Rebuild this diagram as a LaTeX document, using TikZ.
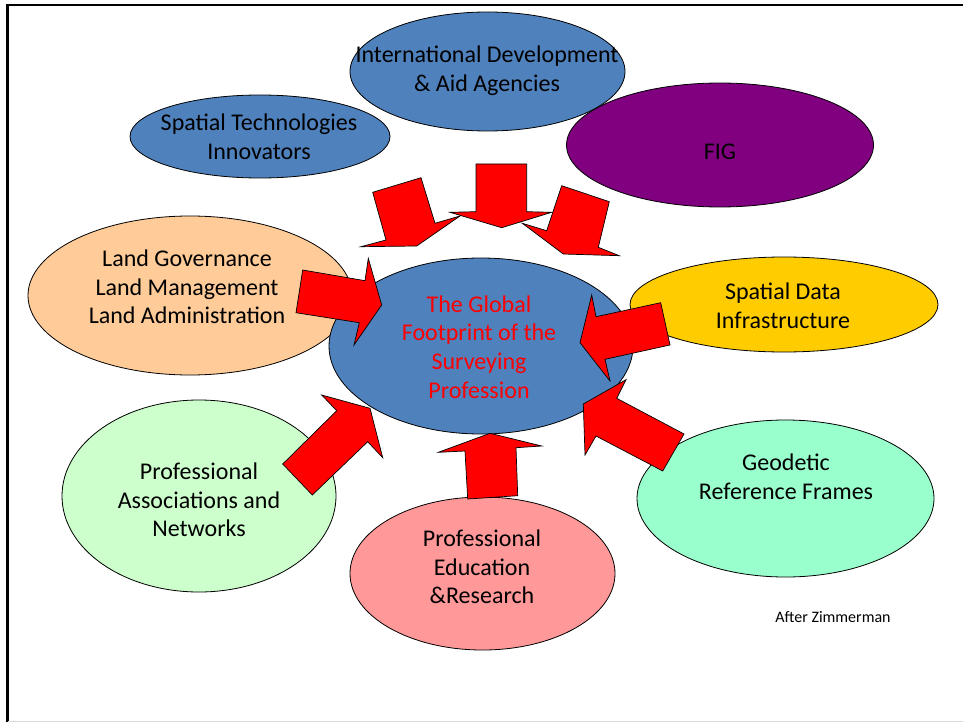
\documentclass[tikz,border=0pt]{standalone}
\usepackage{fontspec}
\setmainfont{Carlito}
\usetikzlibrary{shapes.geometric}
\definecolor{offblue}{HTML}{4F81BD}
\definecolor{figpurple}{HTML}{800080}
\definecolor{peach}{HTML}{FFCC99}
\definecolor{sdiyellow}{HTML}{FFCC00}
\definecolor{lightgreen}{HTML}{CCFFCC}
\definecolor{pink}{HTML}{FF9999}
\definecolor{mint}{HTML}{99FFCC}
\begin{document}
\begin{tikzpicture}[x=1pt,y=-1pt,
  bubble/.style={ellipse, draw=black, line width=0.8pt, inner sep=0pt},
  lbl/.style={align=center, font=\fontsize{24}{28.6}\selectfont, text=black, inner sep=0pt},
  blockarrow/.style={fill=red, draw=black, line width=0.7pt, line join=miter}]
\useasboundingbox (0,0) rectangle (963,722);
\fill[white] (0,0) rectangle (963,722);
% frame
\draw[line width=2.5pt, black] (7.5,730) -- (7.5,5) -- (975,5);
\draw[line width=1pt, black!15] (7.5,721.5) -- (963,721.5);

% ellipses
\node[bubble, fill=offblue, minimum width=260pt, minimum height=83pt] (spt) at (260,136.5) {};
\node[bubble, fill=figpurple, minimum width=307pt, minimum height=124pt] (fig) at (720,145) {};
\node[bubble, fill=offblue, minimum width=275pt, minimum height=119pt] (intl) at (487.5,71.5) {};
\node[bubble, fill=peach, minimum width=324pt, minimum height=159pt] (land) at (190,295.5) {};
\node[bubble, fill=sdiyellow, minimum width=308pt, minimum height=95pt] (sdi) at (784,304.5) {};
\node[bubble, fill=lightgreen, minimum width=274pt, minimum height=192pt] (assoc) at (199,496) {};
\node[bubble, fill=pink, minimum width=265pt, minimum height=153pt] (edu) at (482.5,573.5) {};
\node[bubble, fill=mint, minimum width=297pt, minimum height=157pt] (geo) at (785.5,498.5) {};
\node[bubble, fill=offblue, minimum width=304pt, minimum height=176pt] (core) at (481,346) {};

% labels
\node[lbl] (spt-t) at (259,136.5) {Spatial Technologies\\Innovators};
\node[lbl] (intl-t) at (487,71) {International Development\\\& Aid Agencies};
\node[lbl] (fig-t) at (720,152) {FIG};
\node[lbl] (land-t) at (187,287) {Land Governance\\Land Management\\Land Administration};
\node[lbl, text=red] (core-t) at (479,347) {The Global\\Footprint of the\\Surveying\\Profession};
\node[lbl] (sdi-t) at (783,305.5) {Spatial Data\\Infrastructure};
\node[lbl] (assoc-t) at (199,500) {Professional\\Associations and\\Networks};
\node[lbl] (geo-t) at (786,476.5) {Geodetic\\Reference Frames};
\node[lbl] (edu-t) at (482,567) {Professional\\Education\\\&Research};
\node[font=\fontsize{16}{18}\selectfont, inner sep=0pt] (after) at (833,617) {After Zimmerman};

% block arrows
\filldraw[blockarrow] (372.7,192.3) -- (421,177.7) -- (435,223.3) -- (460,216) -- (416.7,246) -- (361,246.7) -- (386,240) -- cycle;
\filldraw[blockarrow] (476,164) -- (526.7,164) -- (526.7,211.7) -- (551.7,212.3) -- (501.7,227.7) -- (450,212.3) -- (476,211.7) -- cycle;
\filldraw[blockarrow] (561.7,185.7) -- (609.3,201.7) -- (598.3,247.3) -- (619.3,255.7) -- (563.3,254) -- (522.3,223.3) -- (546.7,230.7) -- cycle;
\filldraw[blockarrow] (302.7,270) -- (365,280.7) -- (368.3,258.3) -- (381.7,305) -- (354,345) -- (359.3,322.7) -- (296,312.7) -- cycle;
\filldraw[blockarrow] (660.7,302.7) -- (596,316.7) -- (591.7,295) -- (580,342.7) -- (610,381) -- (605,359.3) -- (670,345) -- cycle;
\filldraw[blockarrow] (282.7,464) -- (336.7,410.7) -- (321.7,395) -- (370,408.3) -- (382.7,457.7) -- (367.7,441.7) -- (312.3,495) -- cycle;
\filldraw[blockarrow] (467.7,499) -- (465,451) -- (438.3,452.3) -- (490,433.3) -- (541.7,446) -- (516,447.7) -- (517.7,495.7) -- cycle;
\filldraw[blockarrow] (684,434) -- (616.7,398.3) -- (626,379.7) -- (583.3,404) -- (585,455) -- (596,436) -- (662.7,471) -- cycle;
\end{tikzpicture}
\end{document}
